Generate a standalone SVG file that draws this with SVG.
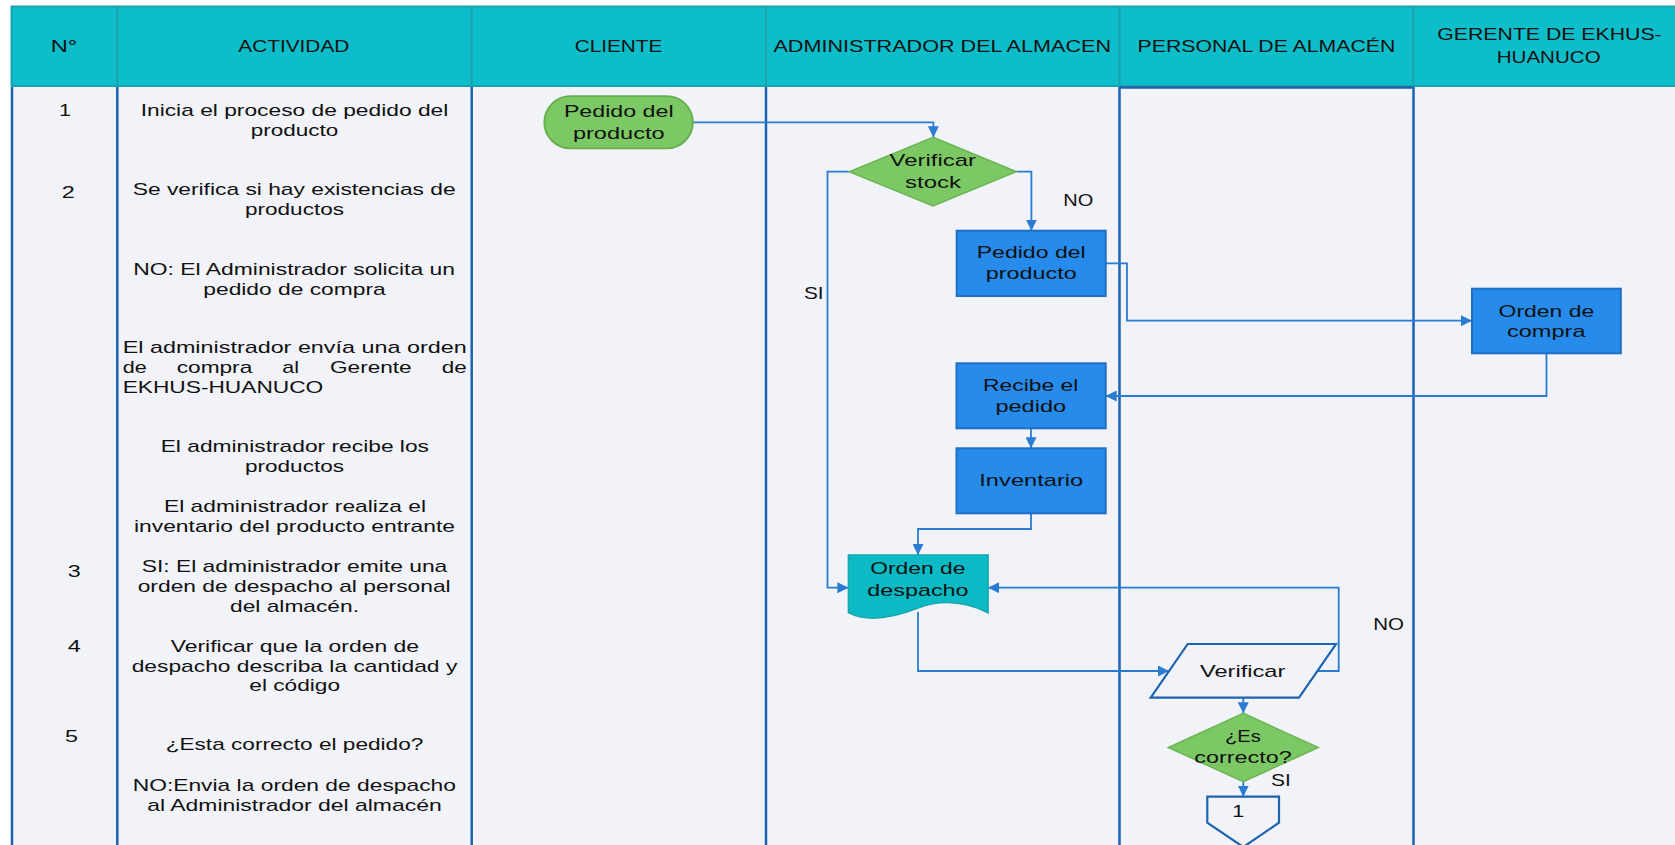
<svg xmlns="http://www.w3.org/2000/svg" width="1675" height="845" viewBox="0 0 1675 845">
  <style>
    text { font-family: "Liberation Sans", Arial, sans-serif; font-size: 17px; fill: #111; }
    .hdr { fill: #0DBDC9; }
    .hsep { stroke: #1AA3AC; stroke-width: 2; fill: none; }
    .lane { stroke: #1E62B2; stroke-width: 2.5; fill: none; }
    .conn { stroke: #2A7BD2; stroke-width: 1.8; fill: none; }
    .arr { marker-end: url(#arrow); }
    .term { fill: #7CC864; stroke: #66AF4E; stroke-width: 1.8; }
    .dec { fill: #7CC864; stroke: #6CB554; stroke-width: 1.5; }
    .proc { fill: #268BEA; stroke: #1F70C4; stroke-width: 2; }
    .doc { fill: #0BBAC4; stroke: #19A7B0; stroke-width: 1.5; }
    .io { fill: #F1F3F8; stroke: #1E63B0; stroke-width: 2.2; }
  </style>
  <defs>
    <marker id="arrow" viewBox="0 0 10 10" refX="10" refY="5" markerWidth="11" markerHeight="11" markerUnits="userSpaceOnUse" orient="auto">
      <path d="M0,0 L10,5 L0,10 z" fill="#2A7BD2"/>
    </marker>
  </defs>

  <!-- page -->
  <rect x="0" y="0" width="1675" height="845" fill="#FFFFFF"/>
  <rect x="11" y="86" width="1664" height="759" fill="#F1F3F8"/>

  <!-- header band -->
  <g id="header">
    <rect class="hdr" x="11" y="6" width="1664" height="80"/>
    <path class="hsep" d="M11,6.5 H1675 M11,86 H1675 M11.5,6 V86 M117.3,6 V86 M471.7,6 V86 M766,6 V86 M1119.5,6 V86 M1413.3,6 V86"/>
    <text x="50.7" y="51.7" textLength="26.6" lengthAdjust="spacingAndGlyphs">N°</text>
    <text x="238.3" y="51.7" textLength="111" lengthAdjust="spacingAndGlyphs">ACTIVIDAD</text>
    <text x="574.7" y="51.7" textLength="87.6" lengthAdjust="spacingAndGlyphs">CLIENTE</text>
    <text x="773.4" y="51.7" textLength="337.6" lengthAdjust="spacingAndGlyphs">ADMINISTRADOR DEL ALMACEN</text>
    <text x="1137.6" y="51.7" textLength="257.7" lengthAdjust="spacingAndGlyphs">PERSONAL DE ALMACÉN</text>
    <text x="1437.3" y="40.2" textLength="224.4" lengthAdjust="spacingAndGlyphs">GERENTE DE EKHUS-</text>
    <text x="1496.7" y="62.8" textLength="104" lengthAdjust="spacingAndGlyphs">HUANUCO</text>
  </g>

  <!-- swimlane borders -->
  <g id="lanes">
    <path class="lane" d="M12,87 V845 M117.3,87 V845 M471.7,87 V845 M766,87 V845 M1119.5,87 V845 M1413.5,87 V845 M1119.5,87.5 H1413.5"/>
  </g>

  <!-- step numbers -->
  <g id="numbers">
    <text x="59" y="116" textLength="12" lengthAdjust="spacingAndGlyphs">1</text>
    <text x="61.7" y="198" textLength="13" lengthAdjust="spacingAndGlyphs">2</text>
    <text x="67.7" y="577.3" textLength="13" lengthAdjust="spacingAndGlyphs">3</text>
    <text x="67.7" y="652.3" textLength="13" lengthAdjust="spacingAndGlyphs">4</text>
    <text x="65" y="742.3" textLength="13" lengthAdjust="spacingAndGlyphs">5</text>
  </g>

  <!-- activity descriptions -->
  <g id="activities">
    <text x="140.7" y="115.7" textLength="307.6" lengthAdjust="spacingAndGlyphs">Inicia el proceso de pedido del</text>
    <text x="250.7" y="135.5" textLength="87.6" lengthAdjust="spacingAndGlyphs">producto</text>
    <text x="132.7" y="195" textLength="323" lengthAdjust="spacingAndGlyphs">Se verifica si hay existencias de</text>
    <text x="245" y="214.5" textLength="99" lengthAdjust="spacingAndGlyphs">productos</text>
    <text x="133.3" y="275" textLength="321.7" lengthAdjust="spacingAndGlyphs">NO: El Administrador solicita un</text>
    <text x="203.3" y="294.5" textLength="182.4" lengthAdjust="spacingAndGlyphs">pedido de compra</text>
    <text x="122.7" y="353.3" textLength="344" lengthAdjust="spacingAndGlyphs">El administrador envía una orden</text>
    <!-- justified line, one word per element -->
    <text x="122.7" y="373.3" textLength="24" lengthAdjust="spacingAndGlyphs">de</text>
    <text x="176.7" y="373.3" textLength="75.6" lengthAdjust="spacingAndGlyphs">compra</text>
    <text x="282.3" y="373.3" textLength="16.7" lengthAdjust="spacingAndGlyphs">al</text>
    <text x="330" y="373.3" textLength="81.7" lengthAdjust="spacingAndGlyphs">Gerente</text>
    <text x="441.7" y="373.3" textLength="25" lengthAdjust="spacingAndGlyphs">de</text>
    <text x="122.7" y="393.3" textLength="200.6" lengthAdjust="spacingAndGlyphs">EKHUS-HUANUCO</text>
    <text x="160.7" y="452.3" textLength="268.3" lengthAdjust="spacingAndGlyphs">El administrador recibe los</text>
    <text x="245" y="472" textLength="99" lengthAdjust="spacingAndGlyphs">productos</text>
    <text x="164" y="512.3" textLength="262" lengthAdjust="spacingAndGlyphs">El administrador realiza el</text>
    <text x="134" y="532.3" textLength="321" lengthAdjust="spacingAndGlyphs">inventario del producto entrante</text>
    <text x="141.7" y="572.3" textLength="305.6" lengthAdjust="spacingAndGlyphs">SI: El administrador emite una</text>
    <text x="137.7" y="592.3" textLength="313" lengthAdjust="spacingAndGlyphs">orden de despacho al personal</text>
    <text x="230" y="611.7" textLength="129" lengthAdjust="spacingAndGlyphs">del almacén.</text>
    <text x="170.7" y="651.7" textLength="248.3" lengthAdjust="spacingAndGlyphs">Verificar que la orden de</text>
    <text x="131.7" y="671.7" textLength="325.6" lengthAdjust="spacingAndGlyphs">despacho describa la cantidad y</text>
    <text x="249.3" y="691" textLength="90.7" lengthAdjust="spacingAndGlyphs">el código</text>
    <text x="165.7" y="750" textLength="257.6" lengthAdjust="spacingAndGlyphs">¿Esta correcto el pedido?</text>
    <text x="132.7" y="790.7" textLength="323.3" lengthAdjust="spacingAndGlyphs">NO:Envia la orden de despacho</text>
    <text x="147.3" y="810.7" textLength="294.4" lengthAdjust="spacingAndGlyphs">al Administrador del almacén</text>
  </g>

  <!-- connectors -->
  <g id="connectors">
    <path class="conn arr" d="M692.9,122.3 H933.4 V137.3"/>
    <path class="conn arr" d="M849.3,171.7 H827.5 V587.7 H848.4"/>
    <path class="conn arr" d="M1016.4,171.7 H1031.4 V230.7"/>
    <path class="conn arr" d="M1105.7,263.3 H1127 V320.7 H1472"/>
    <path class="conn arr" d="M1546.5,353.3 V396 H1105.7"/>
    <path class="conn arr" d="M1031,428.3 V448.3"/>
    <path class="conn arr" d="M1031,513.3 V529 H918 V555"/>
    <path class="conn arr" d="M918,612 V671 H1169"/>
    <path class="conn arr" d="M1317.4,671 H1338.7 V587.7 H988.1"/>
    <path class="conn arr" d="M1243.3,697.7 V713.3"/>
    <path class="conn arr" d="M1243.3,781.7 V796.7"/>
    <text x="804" y="299" textLength="19.6" lengthAdjust="spacingAndGlyphs">SI</text>
    <text x="1063.3" y="205.7" textLength="30" lengthAdjust="spacingAndGlyphs">NO</text>
    <text x="1373.3" y="630" textLength="30.7" lengthAdjust="spacingAndGlyphs">NO</text>
    <text x="1271" y="785.7" textLength="19.7" lengthAdjust="spacingAndGlyphs">SI</text>
  </g>

  <!-- client: start of order -->
  <g id="pedido-cliente">
    <rect class="term" x="544.3" y="96.2" width="148.6" height="52.2" rx="26.1"/>
    <text x="563.9" y="117.3" textLength="109.7" lengthAdjust="spacingAndGlyphs">Pedido del</text>
    <text x="572.9" y="139" textLength="91.7" lengthAdjust="spacingAndGlyphs">producto</text>
  </g>

  <!-- stock decision -->
  <g id="verificar-stock">
    <polygon class="dec" points="933,137.3 1016.4,171.7 933,206 849.3,171.7"/>
    <text x="889.6" y="166" textLength="86.4" lengthAdjust="spacingAndGlyphs">Verificar</text>
    <text x="905" y="188.3" textLength="56" lengthAdjust="spacingAndGlyphs">stock</text>
  </g>

  <g id="pedido-admin">
    <rect class="proc" x="956.7" y="230.7" width="149" height="65.3"/>
    <text x="976.7" y="257.7" textLength="109" lengthAdjust="spacingAndGlyphs">Pedido del</text>
    <text x="985.7" y="279" textLength="91" lengthAdjust="spacingAndGlyphs">producto</text>
  </g>

  <g id="orden-compra">
    <rect class="proc" x="1472" y="288.7" width="148.8" height="64.6"/>
    <text x="1498.6" y="316.7" textLength="95.6" lengthAdjust="spacingAndGlyphs">Orden de</text>
    <text x="1507" y="337.3" textLength="78.5" lengthAdjust="spacingAndGlyphs">compra</text>
  </g>

  <g id="recibe-pedido">
    <rect class="proc" x="956.5" y="363.3" width="149.2" height="65"/>
    <text x="983.1" y="390.7" textLength="95.3" lengthAdjust="spacingAndGlyphs">Recibe el</text>
    <text x="995.4" y="411.7" textLength="70.8" lengthAdjust="spacingAndGlyphs">pedido</text>
  </g>

  <g id="inventario">
    <rect class="proc" x="956.5" y="448.3" width="149.2" height="65"/>
    <text x="979.3" y="485.7" textLength="104" lengthAdjust="spacingAndGlyphs">Inventario</text>
  </g>

  <!-- dispatch order document -->
  <g id="orden-despacho">
    <path class="doc" d="M848.4,555 H988.1 V612.7 C966,602 942,599 918,608 C895,617 868,623 848.4,612.7 Z"/>
    <text x="870.2" y="574.3" textLength="95.3" lengthAdjust="spacingAndGlyphs">Orden de</text>
    <text x="867.2" y="595.7" textLength="101.4" lengthAdjust="spacingAndGlyphs">despacho</text>
  </g>

  <g id="verificar">
    <polygon class="io" points="1187.7,644 1336,644 1299,697.7 1150.7,697.7"/>
    <text x="1200" y="676.7" textLength="85.3" lengthAdjust="spacingAndGlyphs">Verificar</text>
  </g>

  <g id="es-correcto">
    <polygon class="dec" points="1243.3,713.3 1318.3,747.5 1243.3,781.7 1168.3,747.5"/>
    <text x="1225" y="741.7" textLength="36" lengthAdjust="spacingAndGlyphs">¿Es</text>
    <text x="1194.3" y="763.3" textLength="97.4" lengthAdjust="spacingAndGlyphs">correcto?</text>
  </g>

  <!-- off-page connector -->
  <g id="conector-1">
    <path class="io" d="M1207.3,796.7 H1279 V822.7 L1243.3,847 L1207.3,822.7 Z"/>
    <text x="1232.3" y="816.7" textLength="12" lengthAdjust="spacingAndGlyphs">1</text>
  </g>
</svg>
